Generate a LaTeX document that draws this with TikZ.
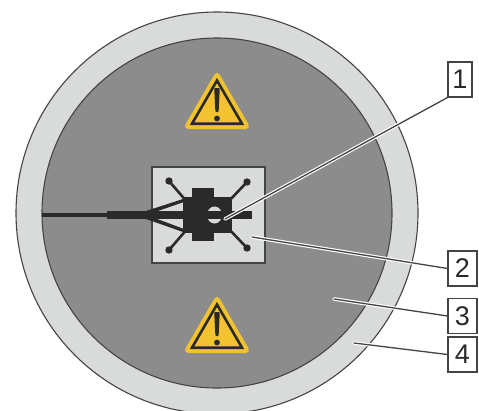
\documentclass[tikz,border=0pt]{standalone}
\usepackage{fontspec}
\setmainfont{Liberation Sans}
\definecolor{ringc}{HTML}{D9DBDB}
\definecolor{discc}{HTML}{8C8C8C}
\definecolor{darkc}{HTML}{2A2A2A}
\definecolor{linec}{HTML}{444444}
\definecolor{warnc}{HTML}{F2C230}
\pgfdeclarelayer{labels}
\pgfsetlayers{main,labels}
\tikzset{
  callout/.style={draw=linec,line width=1.1pt,fill=white,inner sep=0pt,minimum width=29pt,minimum height=35pt,font=\fontsize{27}{27}\selectfont,text=darkc},
  halo/.style={white,line width=3.6pt,line cap=round},
  leader/.style={linec,line width=1.3pt,line cap=round},
  warnouter/.style={fill=warnc,draw=warnc,line width=6pt,line join=round},
  warninner/.style={draw=darkc,line width=2.6pt,line join=miter},
}
\newcommand{\warnsign}[2]{%
  \begin{scope}[shift={(#1,#2)}]
    \path[warnouter] (0,5) -- (29,55) -- (-29,55) -- cycle;
    \path[warninner] (0,9.5) -- (25,52.7) -- (-25,52.7) -- cycle;
    \fill[darkc,rounded corners=1pt] (-2.8,17) -- (2.8,17) -- (1.6,41) -- (-1.6,41) -- cycle;
    \fill[darkc] (0,47.5) circle (2.9);
  \end{scope}}
\begin{document}
\begin{tikzpicture}[x=1pt,y=-1pt]
\useasboundingbox (0,0) rectangle (479,410);
\clip (0,0) rectangle (479,410);
\fill[white] (0,0) rectangle (479,410);
\draw[fill=ringc,draw=linec,line width=1.1pt] (217,213) circle (201);
\draw[fill=discc,draw=linec,line width=1.1pt] (217,213) circle (175);
\draw[fill=ringc,draw=linec,line width=1.1pt] (152,167) rectangle (265,263);
\warnsign{217}{71}
\warnsign{217}{295}
% holder
\fill[darkc] (183,197) rectangle (232,233);
\fill[darkc] (192,188) rectangle (214,241);
\fill[ringc] (214.5,215) ellipse (7.5 and 8.5);
\foreach \bx/\by/\ex/\ey in {169/181/188/203, 247/182/228/202, 169/250/188/228, 247/248/228/228}{
  \draw[darkc,line width=2.6pt] (\bx,\by) -- (\ex,\ey);
  \fill[darkc] (\bx,\by) circle (3.7);
}
% cable
\fill[darkc] (42,213) rectangle (108,217);
\fill[darkc] (107,211) rectangle (252,219);
\fill[darkc] (146,211) -- (183,199) -- (184,202) -- (152,213) -- cycle;
\fill[darkc] (146,219) -- (183,232) -- (184,229) -- (152,217) -- cycle;
% callouts
\begin{pgfonlayer}{labels}
\node[callout,minimum width=24pt] (n1) at (460,79.5) {1};
\node[callout] (n2) at (462.5,268.5) {2};
\node[callout] (n3) at (462.5,316) {3};
\node[callout] (n4) at (462.5,354.5) {4};
\end{pgfonlayer}
\coordinate (t1) at (225,219);
\coordinate (t2) at (252,237);
\coordinate (t3) at (334,299);
\coordinate (t4) at (354,343);
\draw[halo] (n1.south west) -- (t1);
\draw[halo] (n2.west) -- (t2);
\draw[halo] (n3.west) -- (t3);
\draw[halo] (n4.west) -- (t4);
\draw[leader] (n1.south west) -- (t1);
\draw[leader] (n2.west) -- (t2);
\draw[leader] (n3.west) -- (t3);
\draw[leader] (n4.west) -- (t4);
\end{tikzpicture}
\end{document}
